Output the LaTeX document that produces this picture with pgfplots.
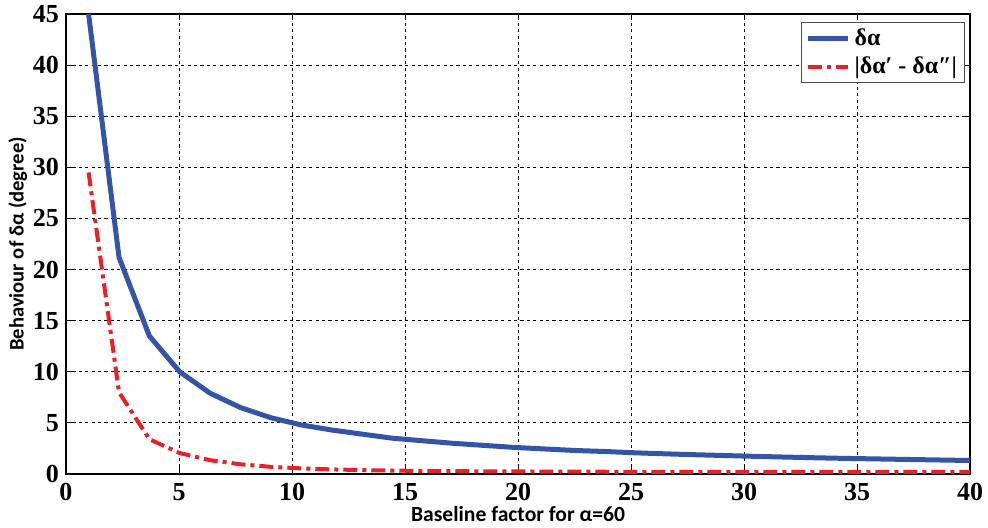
\documentclass[border=0pt]{standalone}
\usepackage{pgfplots}
\pgfplotsset{compat=1.18}
\usepackage{fontspec}
\setmainfont{Liberation Serif}
\newfontfamily\labfont{Carlito}
\definecolor{myblue}{RGB}{52,84,168}
\definecolor{myred}{RGB}{236,30,38}
\begin{document}
\begin{tikzpicture}
\begin{axis}[
  scale only axis,
  width=452pt, height=230pt,
  xmin=0, xmax=40, ymin=0, ymax=45,
  xtick={0,5,...,40}, ytick={0,5,...,45},
  grid=major,
  major grid style={black, line width=0.4pt, dash pattern=on 1.6pt off 1.6pt},
  axis line style={black, line width=0.6pt},
  tick align=inside,
  major tick length=3pt,
  tick style={black, line width=0.5pt},
  /pgf/number format/assume math mode=true,
  ticklabel style={font=\fontsize{13}{13}\selectfont\bfseries},
  xticklabel style={yshift=-1pt},
  xlabel={\labfont\bfseries Baseline factor for α=60},
  ylabel={\labfont\bfseries Behaviour of δα (degree)},
  xlabel style={font=\fontsize{10.8}{11}\selectfont, yshift=4pt},
  ylabel style={font=\fontsize{10.3}{11}\selectfont, yshift=-4pt},
  legend style={font=\fontsize{12}{13}\selectfont\bfseries, draw=black!70, line width=0.6pt, inner xsep=2pt, inner ysep=1pt, row sep=0pt, at={(0.995,0.982)}, anchor=north east},
  legend cell align=left,
  legend image code/.code={\draw[#1] (0pt,0pt) -- (20pt,0pt);},
]
\coordinate (sw) at (rel axis cs:0,0);
\coordinate (ne) at (rel axis cs:1,1);
\addplot[myblue, line width=2.5pt] coordinates {
(1,45) (2.345,21.2) (3.69,13.5) (5.03,10.0) (6.38,7.9) (7.72,6.5) (9.07,5.5)
(10.41,4.8) (11.76,4.3) (13.1,3.9) (14.45,3.5) (15.79,3.25) (17.14,3.0)
(18.48,2.8) (19.83,2.6) (21.17,2.45) (22.52,2.3) (23.86,2.2) (25.21,2.07)
(26.55,1.97) (27.9,1.88) (29.24,1.8) (30.59,1.72) (31.93,1.65) (33.28,1.58)
(34.62,1.52) (35.97,1.47) (37.31,1.42) (38.66,1.37) (40,1.32)
};
\addlegendentry{δα}
\addplot[myred, line width=2pt, dash pattern=on 7pt off 2.5pt on 2pt off 2.5pt] coordinates {
(1,29.5) (2.345,8.0) (3.69,3.4) (5.03,2.05) (6.38,1.35) (7.72,0.95) (9.07,0.7)
(10.41,0.55) (11.76,0.45) (13.1,0.38) (14.45,0.33) (15.79,0.3) (17.14,0.28)
(18.48,0.26) (19.83,0.25) (21.17,0.24) (22.52,0.23) (23.86,0.22) (25.21,0.21)
(26.55,0.21) (27.9,0.2) (29.24,0.2) (30.59,0.2) (31.93,0.2) (33.28,0.2)
(34.62,0.2) (35.97,0.2) (37.31,0.2) (38.66,0.2) (40,0.2)
};
\addlegendentry{|δα′ - δα″|}
\end{axis}
\pgfresetboundingbox
\path[use as bounding box] ([shift={(-33pt,-27pt)}]sw) rectangle ([shift={(9pt,7pt)}]ne);
\end{tikzpicture}
\end{document}
